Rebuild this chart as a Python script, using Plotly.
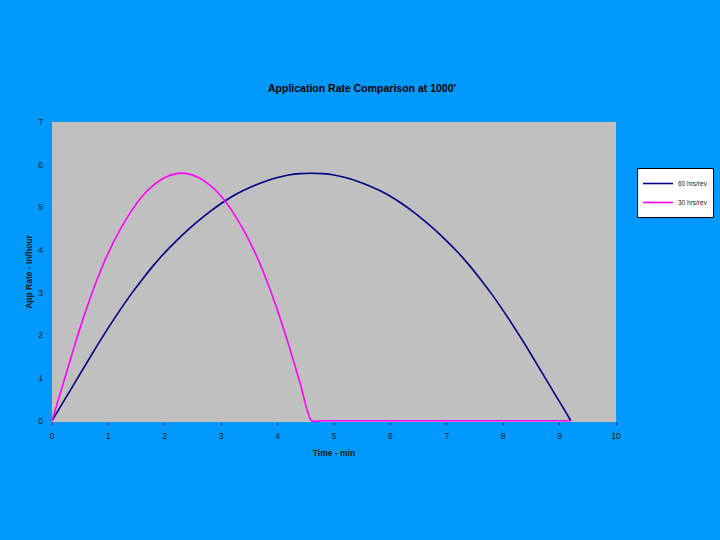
import plotly.graph_objects as go

# Zeit in Minuten (Schritt 0.2)
time_min = [0.0, 0.2, 0.4, 0.6, 0.8, 1.0, 1.2, 1.4, 1.6, 1.8, 2.0, 2.2, 2.4, 2.6, 2.8, 3.0,
            3.2, 3.4, 3.6, 3.8, 4.0, 4.2, 4.4, 4.6, 4.8, 5.0, 5.2, 5.4, 5.6, 5.8, 6.0, 6.2,
            6.4, 6.6, 6.8, 7.0, 7.2, 7.4, 7.6, 7.8, 8.0, 8.2, 8.4, 8.6, 8.8, 9.0, 9.2]

# 60 hrs/rev
rate_60 = [0.0, 0.44, 0.88, 1.32, 1.76, 2.18, 2.58, 2.96, 3.31, 3.64, 3.94, 4.21, 4.46, 4.69,
           4.90, 5.09, 5.26, 5.40, 5.52, 5.62, 5.70, 5.76, 5.79, 5.80, 5.79, 5.76, 5.70, 5.62,
           5.52, 5.40, 5.26, 5.09, 4.90, 4.69, 4.46, 4.21, 3.94, 3.64, 3.31, 2.96, 2.58, 2.18,
           1.76, 1.32, 0.88, 0.44, 0.0]

# 30 hrs/rev
rate_30 = [0.0, 0.88, 1.76, 2.58, 3.31, 3.94, 4.46, 4.90, 5.26, 5.52, 5.70, 5.79, 5.79, 5.70,
           5.52, 5.26, 4.90, 4.46, 3.94, 3.31, 2.58, 1.76, 0.88, 0.0, 0.0, 0.0, 0.0, 0.0,
           0.0, 0.0, 0.0, 0.0, 0.0, 0.0, 0.0, 0.0, 0.0, 0.0, 0.0, 0.0, 0.0, 0.0,
           0.0, 0.0, 0.0, 0.0, 0.0]

series_names = ["60 hrs/rev", "30 hrs/rev"]
colors = ["#000080", "#FF00FF"]

font_fam = "Liberation Sans, Arial, sans-serif"

fig = go.Figure()
for name, vals, col in zip(series_names, [rate_60, rate_30], colors):
    fig.add_trace(go.Scatter(
        x=time_min, y=vals, name=name, mode="lines",
        line=dict(color=col, width=1.6, shape="spline", smoothing=0.6),
    ))

fig.update_layout(
    width=720, height=540,
    paper_bgcolor="#0099FF",
    plot_bgcolor="#C0C0C0",
    margin=dict(l=52, r=104, t=122, b=118),
    font=dict(family=font_fam, size=8.5, color="#1a1a1a"),
    title=dict(
        text="<b>Application Rate Comparison at 1000'</b>",
        x=362 / 720, xanchor="center", y=1 - 88 / 540, yanchor="middle",
        font=dict(size=10.5, family=font_fam, color="#000000"),
    ),
    # Legende relativ zum Container, damit sie den Rand nicht verschiebt
    legend=dict(
        xref="container", yref="container",
        x=637 / 720, y=1 - 168 / 540, xanchor="left", yanchor="top",
        bgcolor="#FFFFFF", bordercolor="#000000", borderwidth=1,
        font=dict(size=6.5, family=font_fam),
        itemwidth=30, tracegroupgap=0,
    ),
    showlegend=True,
)

fig.update_xaxes(
    range=[0, 10], tickmode="linear", tick0=0, dtick=1,
    showgrid=False, zeroline=False, showline=False,
    ticks="outside", ticklen=2, tickcolor="#000000", ticklabelstandoff=4,
    title=dict(text="<b>Time - min</b>", font=dict(size=8.5), standoff=9),
)
# leicht unter 0, damit die Null-Linie der 30-hrs-Kurve sichtbar bleibt
fig.update_yaxes(
    range=[-0.03, 7], tickmode="linear", tick0=0, dtick=1,
    showgrid=False, zeroline=False, showline=False,
    ticks="", ticklabelstandoff=8,
    title=dict(text="<b>App Rate - In/hour</b>", font=dict(size=8.5), standoff=4),
)

# Seitenrand entfernen, damit die Grafik bei 0,0 beginnt
fig.write_html("out.html", config={"displayModeBar": False},
               post_script="document.body.style.margin='0px';")
